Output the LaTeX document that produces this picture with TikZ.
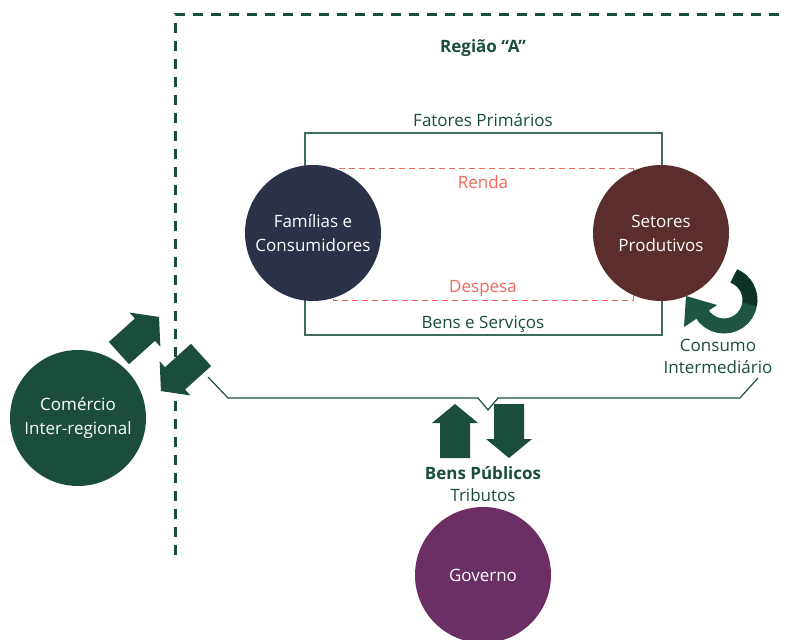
\documentclass[tikz,border=0pt]{standalone}
\usepackage{fontspec}
\setmainfont{Open Sans}
\usetikzlibrary{backgrounds}
\definecolor{dkgreen}{HTML}{1B4D3E}
\definecolor{lnGreen}{HTML}{3E6B5A}
\definecolor{famcol}{HTML}{2B3147}
\definecolor{setcol}{HTML}{5C2D2D}
\definecolor{govcol}{HTML}{6B2F63}
\definecolor{redcol}{HTML}{F2675A}
\definecolor{cidark}{HTML}{0D3526}
\definecolor{cilight}{HTML}{1D5442}
\tikzset{
  circ/.style={circle, minimum size=136pt, inner sep=0pt, text=white, align=center,
    font=\fontsize{17}{24}\selectfont},
  lbl/.style={font=\fontsize{17}{20}\selectfont, text=dkgreen, inner sep=0pt},
  blbl/.style={font=\fontsize{17}{20}\selectfont\bfseries, text=dkgreen, inner sep=0pt},
  rlbl/.style={font=\fontsize{17}{20}\selectfont, text=redcol, inner sep=0pt},
  rectline/.style={draw=lnGreen, line width=1.3pt},
  reddash/.style={draw=redcol, line width=1pt, dash pattern=on 6pt off 4pt},
  border/.style={draw=dkgreen, line width=3pt, dash pattern=on 10pt off 8pt},
  bracket/.style={draw=dkgreen, line width=1.2pt},
  blockarrow/.pic={\fill[dkgreen] (-27,-15) -- (8,-15) -- (8,-23) -- (27,0) -- (8,23) -- (8,15) -- (-27,15) -- cycle;}
}
\begin{document}
\begin{tikzpicture}[x=1pt,y=-1pt]
\useasboundingbox (0,0) rectangle (786,639);
% region border
\draw[border] (175,555) -- (175,15) -- (790,15);
\node[blbl] (regiao) at (483,48) {Região “A”};

% circles
\node[circ, fill=famcol] (fam) at (313,233) {Famílias e\\Consumidores};
\node[circ, fill=setcol] (set) at (661,233) {Setores\\Produtivos};
\node[circ, fill=dkgreen] (com) at (78,418) {Comércio\\Inter-regional};
\node[circ, fill=govcol] (gov) at (483,575) {Governo};

\begin{scope}[on background layer]
  \draw[rectline] (fam.center) ++(-8,-100) rectangle ++(357,202);
  \draw[reddash] (fam.center) ++(20,-64) rectangle ++(300,131);
\end{scope}

\node[lbl] (fp) at (483,120) {Fatores Primários};
\node[lbl] (bs) at (483,324) {Bens e Serviços};
\node[rlbl] (renda) at (483,182) {Renda};
\node[rlbl] (desp) at (483,288) {Despesa};

% bracket
\draw[bracket] (208,377) -- (228,398) -- (478,398) -- (488,410) -- (498,398) -- (740,398) -- (758,378);

% government arrows
\pic[rotate=90] (upA) at (455,431) {blockarrow};
\pic[rotate=-90] (dnA) at (509,431) {blockarrow};
\node[blbl] (bp) at (483,473) {Bens Públicos};
\node[lbl] (trib) at (483,495) {Tributos};

% inter-regional arrows
\pic[rotate=42] (outA) at (139,335) {blockarrow};
\pic[rotate=222] (inA) at (181,373) {blockarrow};

% consumo intermediario curved arrow
\coordinate (C) at (724,300);
\draw[line width=15pt, cidark] (C) ++(-68:26) arc[start angle=-68, end angle=12, radius=26];
\draw[line width=15pt, cilight] (C) ++(10:26) arc[start angle=10, end angle=150, radius=26];
\fill[cilight] (686,296) -- (717,305) -- (684,327) -- cycle;
\node[lbl, align=center, font=\fontsize{17}{22}\selectfont] (ci) at (718,356) {Consumo\\Intermediário};
\end{tikzpicture}
\end{document}
